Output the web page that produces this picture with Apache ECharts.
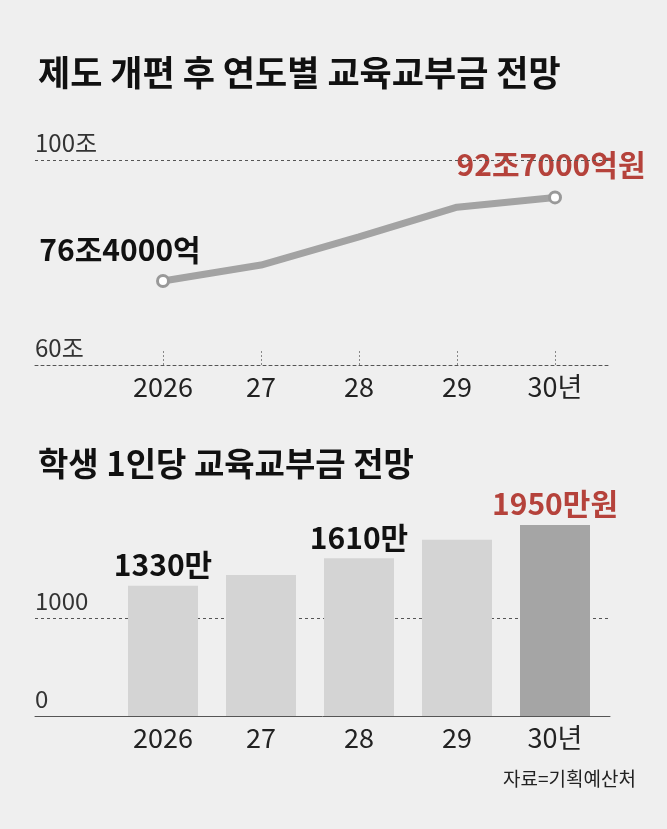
<!DOCTYPE html>
<html><head><meta charset="utf-8">
<script src="https://cdn.jsdelivr.net/npm/echarts@6/dist/echarts.min.js"></script>
<style>html,body{margin:0;background:#efefef}#c{width:667px;height:829px}</style>
</head><body><div id="c"></div>
<script>
const categories = ['2026','27','28','29','30년'];
const budget = [76.4, 79.5, 85.0, 90.8, 92.7];
const perStudent = [1330, 1440, 1610, 1800, 1950];
const budgetLabels = ['76조4000억', '', '', '', '92조7000억원'];
const studentLabels = ['1330만', '', '1610만', '', '1950만원'];
const yTicks1 = [60, 100];
const yTickText1 = ['60조', '100조'];
const yTicks2 = [0, 1000];

const F = '"Noto Sans CJK KR", sans-serif';
const RED = '#b5423b';
const idx = [0,1,2,3,4];
const xMin = (35-163)/98, xMax = (610-163)/98;
function xAxis(gi, dashedLine){
  return {gridIndex: gi, type:'value', min:xMin, max:xMax,
    axisLine:{show:true, onZero:false, lineStyle:{color:'#555', type: dashedLine?[3,3]:'solid', width:1}},
    axisTick:{show:dashedLine, inside:true, length:15, customValues:idx, lineStyle:{color:'#888', type:[2,2]}},
    axisLabel:{customValues:idx, formatter:v=>categories[v], color:'#222', fontFamily:F, fontSize:27, margin:8},
    splitLine:{show:false}};
}
const chart = echarts.init(document.getElementById('c'));
chart.setOption({
  backgroundColor:'#efefef',
  animation:false,
  title:[
    {text:'제도 개편 후 연도별 교육교부금 전망', left:33, top:50, textStyle:{fontFamily:F, fontSize:35, fontWeight:'bold', color:'#111'}},
    {text:'학생 1인당 교육교부금 전망', left:33, top:442, textStyle:{fontFamily:F, fontSize:33, fontWeight:'bold', color:'#111'}},
    {text:'자료=기획예산처', right:26, top:764, textStyle:{fontFamily:F, fontSize:19, fontWeight:'normal', color:'#222'}}
  ],
  grid:[
    {left:35, right:57, top:160, bottom:464},
    {left:35, right:57, top:481, bottom:113}
  ],
  xAxis:[xAxis(0,true), xAxis(1,false)],
  yAxis:[
    {gridIndex:0, type:'value', min:60, max:100, axisLine:{show:false}, axisTick:{show:false}, splitLine:{show:false},
     axisLabel:{customValues:yTicks1, inside:true, verticalAlign:'bottom', margin:0, formatter:v=>yTickText1[yTicks1.indexOf(v)], color:'#333', fontFamily:F, fontSize:24, padding:[0,0,5,0]}},
    {gridIndex:1, type:'value', min:0, max:2400, axisLine:{show:false}, axisTick:{show:false}, splitLine:{show:false},
     axisLabel:{customValues:yTicks2, inside:true, verticalAlign:'bottom', margin:0, formatter:v=>String(v), color:'#333', fontFamily:F, fontSize:24, padding:[0,0,5,0]}}
  ],
  series:[
    {type:'line', xAxisIndex:0, yAxisIndex:0,
     data: budget.map((v,i)=>({value:[i,v], symbolSize:(i===0||i===4)?11:0,
       label:{show:!!budgetLabels[i], formatter:budgetLabels[i], position:'top',
         offset: i===0?[-43,-4]:[-4,-6], color: i===4?RED:'#111', fontFamily:F, fontSize:30, fontWeight:'bold'}})),
     symbol:'circle', itemStyle:{color:'#fff', borderColor:'#999', borderWidth:3},
     lineStyle:{color:'#a3a3a3', width:7},
     markLine:{silent:true, symbol:'none', label:{show:false}, lineStyle:{color:'#555', type:[3,3], width:1}, data:[{yAxis:100}]}
    },
    {type:'bar', xAxisIndex:1, yAxisIndex:1, barWidth:70,
     data: perStudent.map((v,i)=>({value:[i,v], itemStyle:{color: i===4?'#a5a5a5':'#d4d4d4'},
       label:{show:!!studentLabels[i], formatter:studentLabels[i], position:'top', distance:6,
         color: i===4?RED:'#111', fontFamily:F, fontSize:30, fontWeight:'bold'}})),
     markLine:{silent:true, symbol:'none', z:1, label:{show:false}, lineStyle:{color:'#555', type:[3,3], width:1}, data:[{yAxis:1000}]}
    }
  ]
});
</script></body></html>
